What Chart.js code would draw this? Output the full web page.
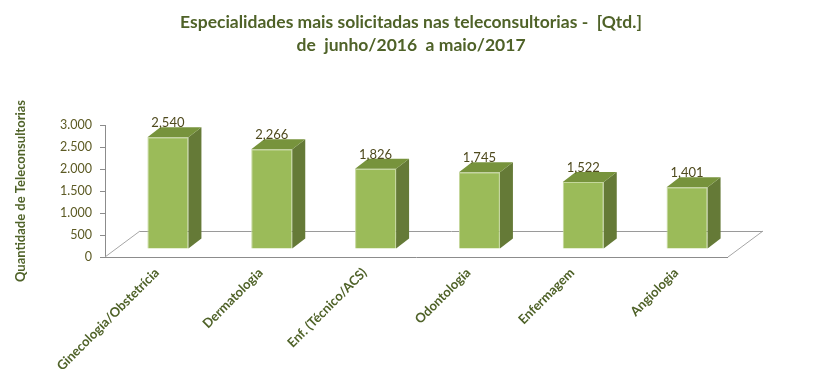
<!DOCTYPE html>
<html>
<head>
<meta charset="utf-8">
<script src="https://cdn.jsdelivr.net/npm/chart.js@4/dist/chart.umd.min.js"></script>
<style>
html,body{margin:0;padding:0;background:#fff;}
#wrap{width:823px;height:378px;position:relative;}
</style>
</head>
<body>
<div id="wrap"><canvas id="c" width="823" height="378"></canvas></div>
<script>
const titleLines = ["Especialidades mais solicitadas nas teleconsultorias -  [Qtd.]", "de  junho/2016  a maio/2017"];
const yAxisTitle = "Quantidade de Teleconsultorias";
const categories = ["Ginecologia/Obstetrícia", "Dermatologia", "Enf. (Técnico/ACS)", "Odontologia", "Enfermagem", "Angiologia"];
const values = [2540, 2266, 1826, 1745, 1522, 1401];
const yMin = 0, yMax = 3000, yStep = 500;

const FRONT_DX = 11, FRONT_DY = -8;   // bar front plane offset from axis plane
const DEPTH_DX = 13, DEPTH_DY = -10;  // bar depth
const FLOOR_DX = 35, FLOOR_DY = -26;  // floor depth

const GREEN_DARK = '#4F6228';
const TICK_COLOR = '#5c5a24';

function dotThousands(v){ return String(v).replace(/\B(?=(\d{3})+(?!\d))/g, '.'); }
function commaThousands(v){ return String(v).replace(/\B(?=(\d{3})+(?!\d))/g, ','); }

const floorPlugin = {
  id: 'floor3d',
  beforeDatasetsDraw(chart){
    const {ctx, chartArea:a} = chart;
    ctx.save();
    ctx.lineWidth = 1;
    ctx.strokeStyle = '#9a9a9a';
    ctx.beginPath();
    ctx.moveTo(a.left + FLOOR_DX, a.bottom + FLOOR_DY + 0.5);
    ctx.lineTo(a.right + FLOOR_DX, a.bottom + FLOOR_DY + 0.5);
    ctx.stroke();
    ctx.strokeStyle = '#a6a6a6';
    ctx.beginPath();
    ctx.moveTo(a.left, a.bottom);
    ctx.lineTo(a.left + FLOOR_DX, a.bottom + FLOOR_DY);
    ctx.moveTo(a.right, a.bottom);
    ctx.lineTo(a.right + FLOOR_DX, a.bottom + FLOOR_DY);
    ctx.stroke();
    ctx.strokeStyle = '#8c8c8c';
    ctx.beginPath();
    ctx.moveTo(a.left, a.bottom + 0.5);
    ctx.lineTo(a.right, a.bottom + 0.5);
    ctx.stroke();
    ctx.restore();
  }
};

const bar3dPlugin = {
  id: 'bar3d',
  beforeDatasetDraw(chart){
    chart.ctx.save();
    chart.ctx.translate(FRONT_DX, FRONT_DY);
  },
  afterDatasetDraw(chart, args){
    const ctx = chart.ctx;
    const meta = args.meta;
    meta.data.forEach((bar, i) => {
      const p = bar.getProps(['x','y','base','width'], true);
      const l = p.x - p.width/2, r = p.x + p.width/2;
      ctx.fillStyle = '#657A37';
      ctx.beginPath();
      ctx.moveTo(r, p.y);
      ctx.lineTo(r + DEPTH_DX, p.y + DEPTH_DY);
      ctx.lineTo(r + DEPTH_DX, p.base + DEPTH_DY);
      ctx.lineTo(r, p.base);
      ctx.closePath();
      ctx.fill();
      ctx.fillStyle = '#77933C';
      ctx.beginPath();
      ctx.moveTo(l, p.y);
      ctx.lineTo(r, p.y);
      ctx.lineTo(r + DEPTH_DX, p.y + DEPTH_DY);
      ctx.lineTo(l + DEPTH_DX, p.y + DEPTH_DY);
      ctx.closePath();
      ctx.fill();
      ctx.fillStyle = '#4f4a1e';
      ctx.font = '13px Lato';
      ctx.textAlign = 'center';
      ctx.textBaseline = 'alphabetic';
      ctx.fillText(commaThousands(values[i]), p.x, p.y + DEPTH_DY);
    });
    ctx.restore();
  }
};

const titlePlugin = {
  id: 'title2',
  afterDraw(chart){
    const ctx = chart.ctx;
    ctx.save();
    ctx.fillStyle = GREEN_DARK;
    ctx.font = 'bold 17.5px Lato';
    ctx.textAlign = 'center';
    ctx.textBaseline = 'middle';
    ctx.fillText(titleLines[0], 411, 22);
    ctx.fillText(titleLines[1], 411, 45);
    ctx.restore();
  }
};

new Chart(document.getElementById('c'), {
  type: 'bar',
  data: {
    labels: categories,
    datasets: [{
      data: values,
      backgroundColor: '#9BBB59',
      borderColor: '#C4D79B',
      borderWidth: 1,
      categoryPercentage: 1,
      barPercentage: 0.395
    }]
  },
  options: {
    responsive: false,
    animation: false,
    layout: { padding: { top: 125, right: 95, left: 0, bottom: 0 } },
    plugins: { legend: { display: false }, tooltip: { enabled: false }, title: { display: false } },
    scales: {
      x: {
        grid: { display: false, drawTicks: false },
        border: { display: false },
        ticks: {
          color: GREEN_DARK,
          font: { family: 'Lato', size: 13, weight: 'bold' },
          maxRotation: 45, minRotation: 45,
          padding: 8,
          autoSkip: false
        },
        afterFit(s){ s.height = 121; }
      },
      y: {
        min: yMin, max: yMax,
        grid: { drawOnChartArea: false, drawTicks: true, tickLength: 5, color: '#8c8c8c' },
        border: { display: true, color: '#8c8c8c' },
        ticks: {
          stepSize: yStep,
          color: TICK_COLOR,
          font: { family: 'Lato', size: 12.5 },
          padding: 8,
          callback: v => dotThousands(v)
        },
        title: {
          display: true,
          text: yAxisTitle,
          color: GREEN_DARK,
          font: { family: 'Lato', size: 13, weight: 'bold' },
          padding: { top: 13, bottom: 0 }
        },
        afterFit(s){ s.width = 105; }
      }
    }
  },
  plugins: [floorPlugin, bar3dPlugin, titlePlugin]
});
</script>
</body>
</html>
